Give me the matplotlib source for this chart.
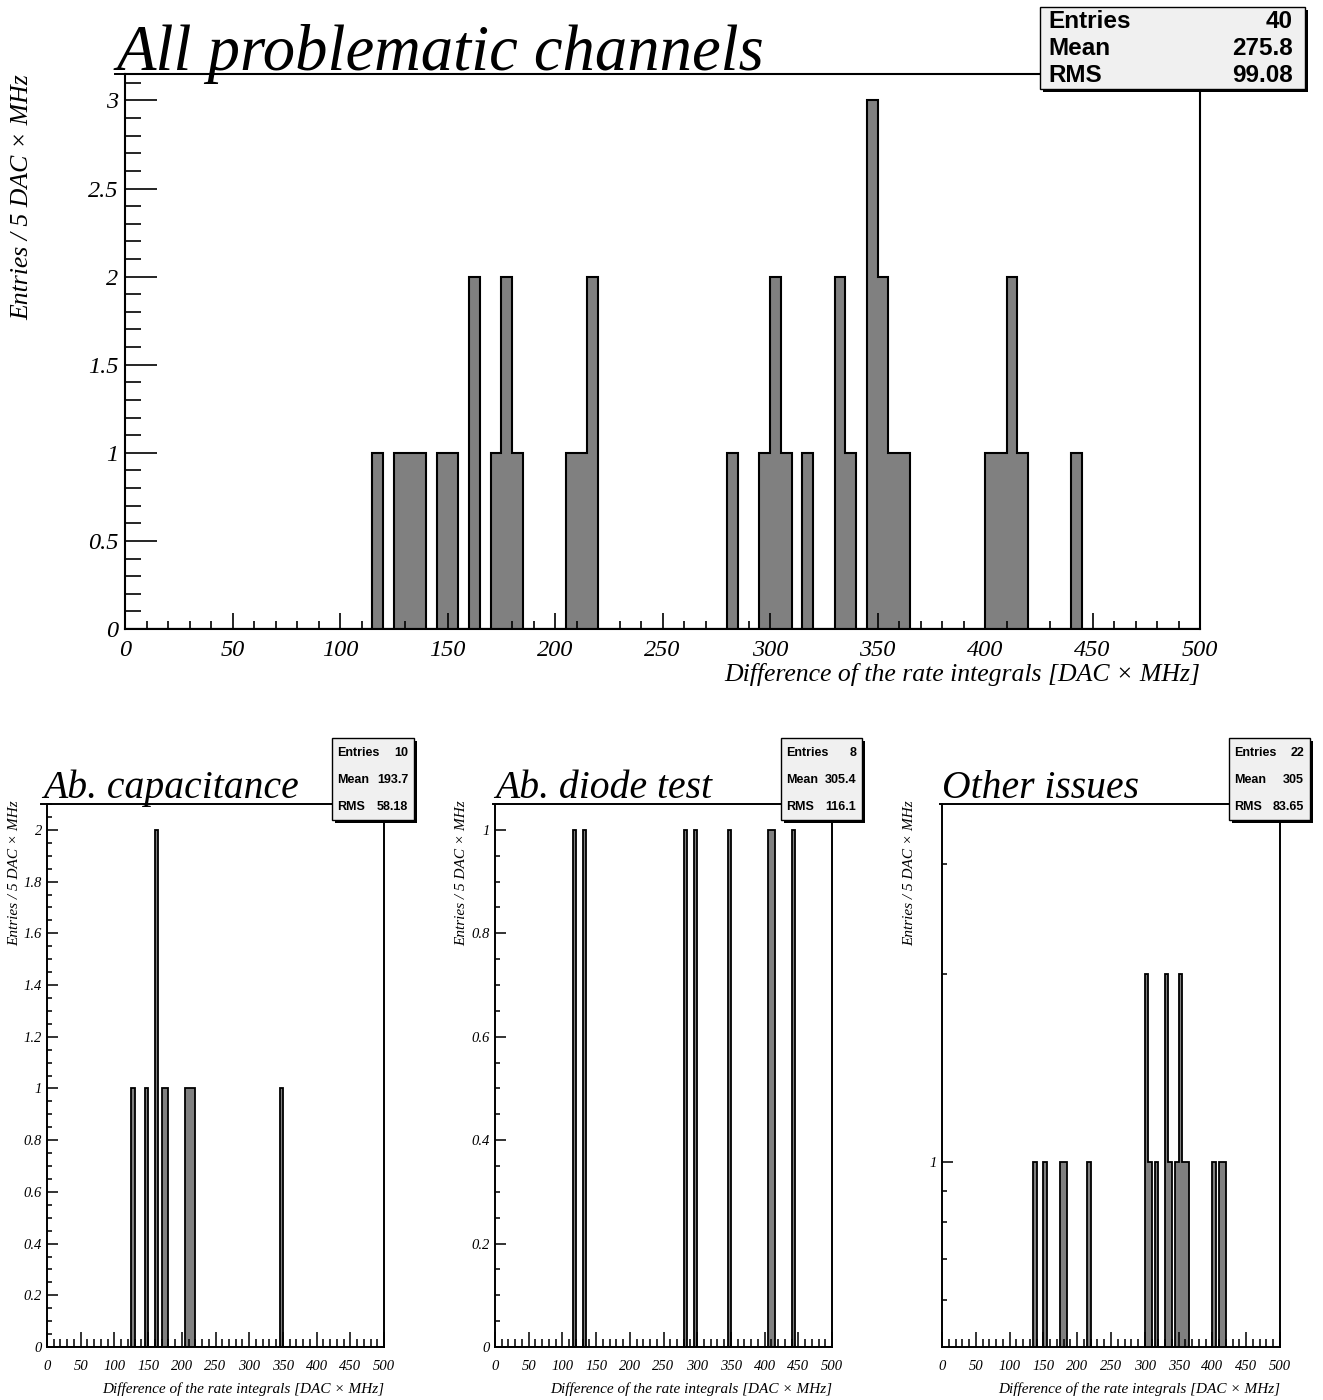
import numpy as np
import matplotlib
matplotlib.use("Agg")
import matplotlib.pyplot as plt
from matplotlib.patches import Rectangle
from matplotlib.lines import Line2D
from matplotlib.ticker import MultipleLocator, FixedLocator, NullFormatter, FormatStrFormatter

W, H = 1323, 1400
SERIF = "Liberation Serif"
SANS = "Liberation Sans"
FILL = "#808080"

# lower edges of the filled 5-unit bins and their counts, per category
cap_bins = [125, 145, 160, 170, 175, 205, 210, 215, 345]
cap_counts = [1, 1, 2, 1, 1, 1, 1, 1, 1]

diode_bins = [115, 130, 280, 295, 345, 405, 410, 440]
diode_counts = [1, 1, 1, 1, 1, 1, 1, 1]

other_bins = [135, 150, 175, 180, 215, 300, 305, 315, 330, 335, 345, 350, 355, 360, 400, 410, 415]
other_counts = [1, 1, 1, 1, 1, 2, 1, 1, 2, 1, 1, 2, 1, 1, 1, 1, 1]

# statistics boxes
stat_names = ["Entries", "Mean", "RMS"]
all_stats = ["40", "275.8", "99.08"]
cap_stats = ["10", "193.7", "58.18"]
diode_stats = ["8", "305.4", "116.1"]
other_stats = ["22", "305", "83.65"]

edges = np.arange(0, 505, 5)
xlabel = "Difference of the rate integrals [DAC \u00d7 MHz]"
ylabel = "Entries / 5 DAC \u00d7 MHz"

fig = plt.figure(figsize=(W / 100, H / 100), dpi=100)
fig.patch.set_facecolor("white")


def fx(x):
    return x / W


def fy(y):
    return 1 - y / H


def px_axes(x0, y0, x1, y1):
    return fig.add_axes([fx(x0), fy(y1), (x1 - x0) / W, (y1 - y0) / H])


def draw_hist(ax, bins, counts, lw):
    centers = np.array(bins) + 2.5
    ax.hist(centers, bins=edges, weights=counts, histtype="stepfilled",
            facecolor=FILL, edgecolor="black", linewidth=lw)


def style_axes(ax, tick_size, spine_w, xmaj, xmin, ymaj, ymin, pad_x, pad_y):
    ax.set_xlim(0, 500)
    ax.xaxis.set_major_locator(MultipleLocator(50))
    ax.xaxis.set_minor_locator(MultipleLocator(10))
    ax.xaxis.set_major_formatter(FormatStrFormatter("%g"))
    for s in ax.spines.values():
        s.set_linewidth(spine_w)
    ax.tick_params(which="both", direction="in", top=False, right=False,
                   width=spine_w * 0.8)
    ax.tick_params(axis="x", which="major", length=xmaj, pad=pad_x)
    ax.tick_params(axis="x", which="minor", length=xmin)
    ax.tick_params(axis="y", which="major", length=ymaj, pad=pad_y)
    ax.tick_params(axis="y", which="minor", length=ymin)
    for lab in ax.get_xticklabels() + ax.get_yticklabels():
        lab.set_fontfamily(SERIF)
        lab.set_fontstyle("italic")
        lab.set_fontsize(tick_size)


def stats_box(x0, y0, x1, y1, values, size, pad_l, pad_r):
    w, h = (x1 - x0) / W, (y1 - y0) / H
    fig.add_artist(Rectangle((fx(x0 + 3), fy(y1 + 3)), w, h, transform=fig.transFigure,
                             facecolor="black", edgecolor="none", zorder=10))
    fig.add_artist(Rectangle((fx(x0), fy(y1)), w, h, transform=fig.transFigure,
                             facecolor="#f0f0f0", edgecolor="black", linewidth=1.0, zorder=11))
    for name, val, f in zip(stat_names, values, [0.18, 0.51, 0.84]):
        y = y0 + f * (y1 - y0)
        fig.text(fx(x0 + pad_l), fy(y), name, ha="left", va="center", fontsize=size,
                 fontweight="bold", family=SANS, zorder=12)
        fig.text(fx(x1 - pad_r), fy(y), val, ha="right", va="center", fontsize=size,
                 fontweight="bold", family=SANS, zorder=12)


def title(text, x, base, frame_left, frame_top, size):
    fig.text(fx(x), fy(base), text, ha="left", va="baseline", fontsize=size,
             family=SERIF, style="italic")
    fig.add_artist(Line2D([fx(x - 2), fx(frame_left)], [fy(frame_top), fy(frame_top)],
                          transform=fig.transFigure, color="black", linewidth=1.4))


# ---- all problematic channels ----
ax = px_axes(125, 74, 1200, 629)
draw_hist(ax, cap_bins + diode_bins + other_bins,
          cap_counts + diode_counts + other_counts, 1.5)
ax.set_ylim(0, 3.15)
ax.yaxis.set_major_locator(MultipleLocator(0.5))
ax.yaxis.set_minor_locator(MultipleLocator(0.1))
ax.yaxis.set_major_formatter(FormatStrFormatter("%g"))
style_axes(ax, 17.5, 1.5, 11.5, 6, 23, 11.5, 8, 5)
title("All problematic channels", 117, 70, 125, 74, 46.5)
fig.text(fx(1200), fy(674), xlabel, ha="right", va="center", fontsize=18.5,
         family=SERIF, style="italic")
fig.text(fx(22), fy(74), ylabel, ha="center", va="top", rotation=90, fontsize=18.5,
         family=SERIF, style="italic")
stats_box(1040, 7, 1305, 89, all_stats, 17.5, 8, 12)

# ---- three categories ----
panels = [
    ("Ab. capacitance", 47, 384, 43, 15, cap_bins, cap_counts, cap_stats, 332, 414),
    ("Ab. diode test", 495, 832, 495, 462, diode_bins, diode_counts, diode_stats, 781, 862),
    ("Other issues", 942, 1280, 942, 910, other_bins, other_counts, other_stats, 1229, 1310),
]
for name, x0, x1, tx, lx, bins, counts, stats, bx0, bx1 in panels:
    ax = px_axes(x0, 804, x1, 1347)
    if name == "Other issues":
        ax.set_yscale("log", nonpositive="clip")
    draw_hist(ax, bins, counts, 1.3)
    if name == "Other issues":
        ax.set_ylim(0.505, 3.75)
        ax.yaxis.set_major_locator(FixedLocator([1]))
        ax.yaxis.set_minor_locator(FixedLocator([0.6, 0.7, 0.8, 0.9, 2, 3]))
        ax.yaxis.set_major_formatter(FormatStrFormatter("%g"))
        ax.yaxis.set_minor_formatter(NullFormatter())
    else:
        ax.set_ylim(0, 1.05 * max(counts))
        ax.yaxis.set_major_locator(MultipleLocator(0.2))
        ax.yaxis.set_minor_locator(MultipleLocator(0.05))
        ax.yaxis.set_major_formatter(FormatStrFormatter("%g"))
    style_axes(ax, 10.5, 1.4, 11, 6, 7.7, 3.8, 9, 3.5)
    title(name, tx, 798, x0, 804, 28.5)
    fig.text(fx(x1), fy(1389), xlabel, ha="right", va="center", fontsize=11,
             family=SERIF, style="italic")
    fig.text(fx(lx), fy(800), ylabel, ha="center", va="top", rotation=90, fontsize=11,
             family=SERIF, style="italic")
    stats_box(bx0, 738, bx1, 820, stats, 9, 5, 6)

fig.savefig("out.png", dpi=100)
